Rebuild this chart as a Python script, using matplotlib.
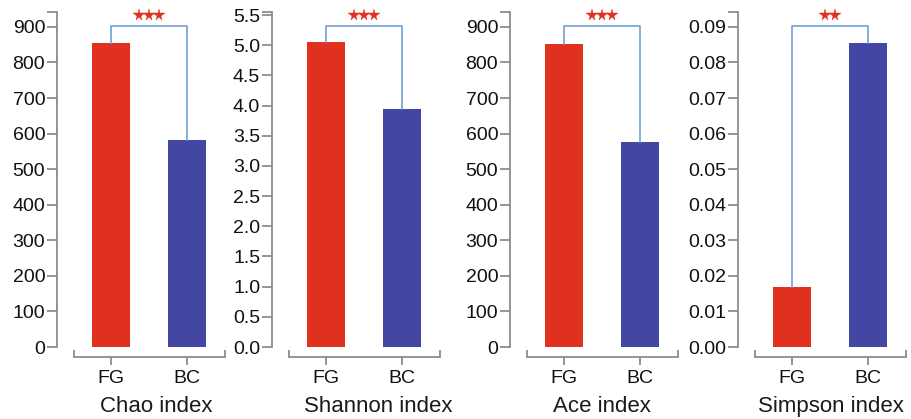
import matplotlib.pyplot as plt
import numpy as np
from matplotlib.ticker import FixedLocator, FormatStrFormatter
from matplotlib.transforms import blended_transform_factory

plt.rcParams['font.family'] = ['Liberation Sans', 'DejaVu Sans']

# data
groups = ["FG", "BC"]
titles = ["Chao index", "Shannon index", "Ace index", "Simpson index"]
chao = [855, 582]
shannon = [5.05, 3.94]
ace = [853, 577]
simpson = [0.0168, 0.0855]
values = [chao, shannon, ace, simpson]
signif = ["***", "***", "***", "**"]

y_ticks = [np.arange(0, 901, 100),
           np.arange(0, 5.51, 0.5),
           np.arange(0, 901, 100),
           np.arange(0, 0.0901, 0.01)]
y_tops = [942, 5.55, 942, 0.0942]
y_fmt = ["%d", "%.1f", "%d", "%.2f"]

colors = ["#E0301E", "#4346A3"]
axis_col = "#8c8c8c"
bracket_col = "#6e9fd2"
text_col = "#111111"

W, H = 911, 419
fig = plt.figure(figsize=(W / 100, H / 100), dpi=100)

left_px = [57, 272, 510, 738]
title_shift_px = [7, 14, 0, 1]
bottom_px, top_px = 347, 12
unit = 75.5
x_lo, x_hi = -0.72, 1.5

for i in range(4):
    w = (x_hi - x_lo) * unit
    ax = fig.add_axes([left_px[i] / W, (H - bottom_px) / H,
                       w / W, (bottom_px - top_px) / H])
    x = np.arange(len(groups))
    v = values[i]
    ax.bar(x, v, width=0.5, color=colors, zorder=2)
    ax.set_xlim(x_lo, x_hi)
    ax.set_ylim(0, y_tops[i])

    for s in ["top", "right"]:
        ax.spines[s].set_visible(False)
    for s in ["left", "bottom"]:
        ax.spines[s].set_color(axis_col)
        ax.spines[s].set_linewidth(1.3)
    ax.spines["bottom"].set_position(("outward", 7.2))
    ax.spines["bottom"].set_bounds(-0.5, 1.5)
    ax.spines["left"].set_bounds(0, y_tops[i])

    ax.set_xticks(x)
    ax.set_xticklabels(groups)
    ax.xaxis.set_minor_locator(FixedLocator([-0.5, 1.5]))
    ax.tick_params(axis="x", which="major", length=6, width=1.3, color=axis_col,
                   labelsize=14, pad=3.5, labelcolor=text_col)
    ax.tick_params(axis="x", which="minor", direction="in", length=5, width=1.3,
                   color=axis_col)

    ax.set_yticks(y_ticks[i])
    ax.yaxis.set_major_formatter(FormatStrFormatter(y_fmt[i]))
    ax.yaxis.set_minor_locator(FixedLocator([y_tops[i]]))
    ax.tick_params(axis="y", which="major", length=7, width=1.3, color=axis_col,
                   labelsize=14, pad=1.5, labelcolor=text_col)
    ax.tick_params(axis="y", which="minor", length=7, width=1.3, color=axis_col)

    # panel title under the axis
    trans = blended_transform_factory(ax.transData, ax.transAxes)
    ax.text(0.5 + title_shift_px[i] / unit, -0.194, titles[i], fontsize=16,
            ha="center", va="baseline", color="#1a1a1a", transform=trans)

    # significance bracket
    yb = y_tops[i] * 0.958
    ax.plot([0, 0, 1, 1], [v[0], yb, yb, v[1]], color=bracket_col, lw=1.2,
            clip_on=False, zorder=3)
    n = len(signif[i])
    sx = 0.5 + (np.arange(n) - (n - 1) / 2) * 0.13
    ax.plot(sx, np.full(n, 0.99), ls="none", marker="*", ms=8.5, mew=0.3,
            color="#E0301E", transform=trans, clip_on=False)

fig.savefig("out.png", dpi=100)
